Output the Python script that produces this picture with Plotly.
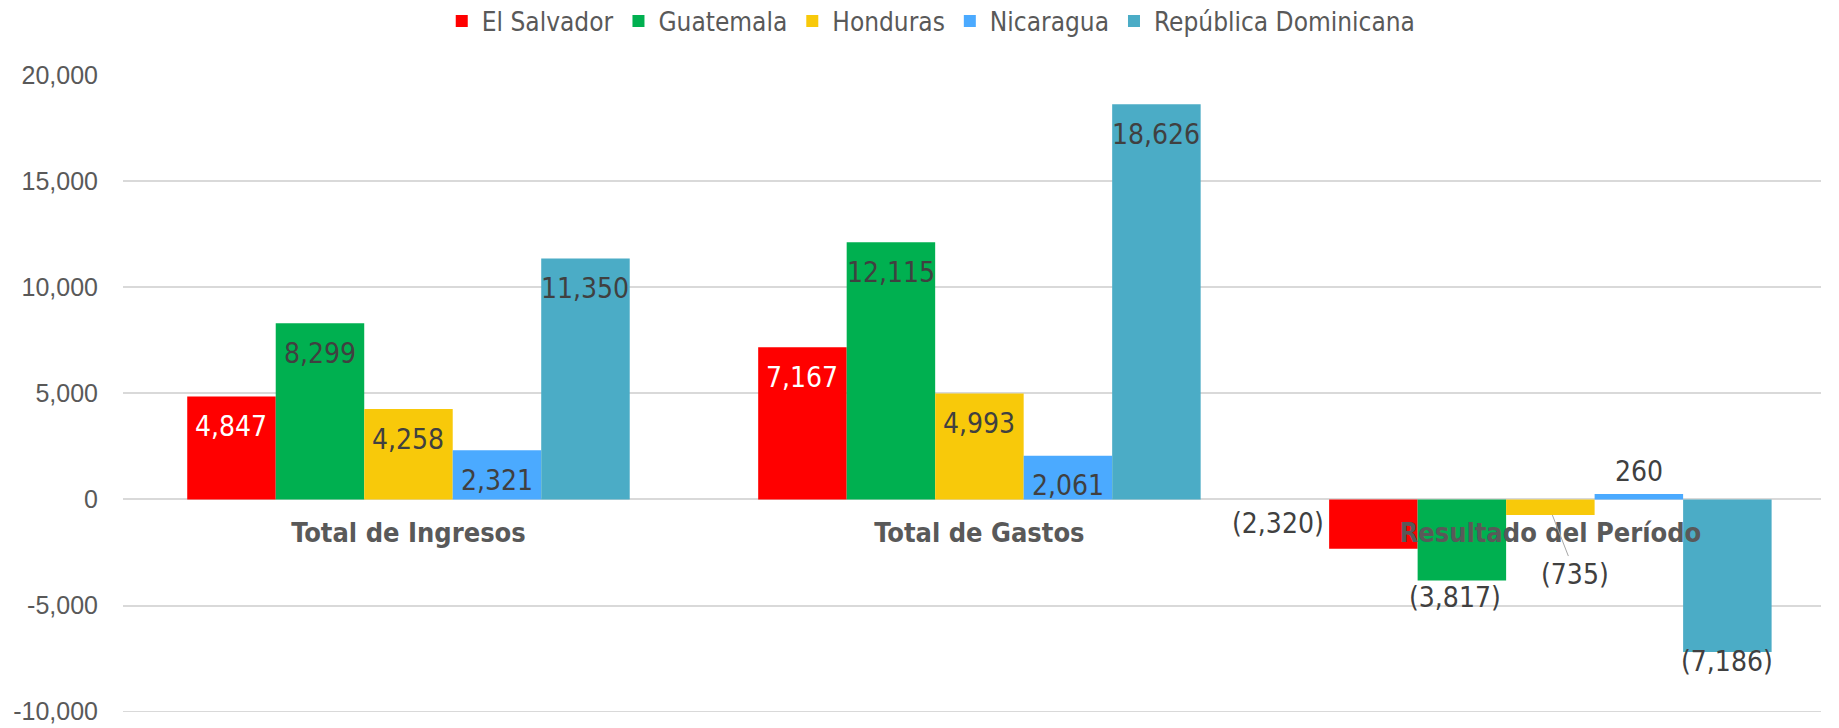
import plotly.graph_objects as go

categories = ["Total de Ingresos", "Total de Gastos", "Resultado del Período"]
series_names = ["El Salvador", "Guatemala", "Honduras", "Nicaragua", "República Dominicana"]
el_salvador = [4847, 7167, -2320]
guatemala = [8299, 12115, -3817]
honduras = [4258, 4993, -735]
nicaragua = [2321, 2061, 260]
rep_dominicana = [11350, 18626, -7186]
y_ticks = [-10000, -5000, 0, 5000, 10000, 15000, 20000]
y_tick_labels = ["-10,000", "-5,000", "0", "5,000", "10,000", "15,000", "20,000"]

values = [el_salvador, guatemala, honduras, nicaragua, rep_dominicana]
colors = ["#FF0000", "#00B050", "#F8C90A", "#4BAAFF", "#4BACC6"]
label_colors = ["#FFFFFF", "#404040", "#404040", "#404040", "#404040"]

LBL_FONT = "DejaVu Sans Condensed, Liberation Sans Narrow, sans-serif"
AX_FONT = "Liberation Sans, Arial, sans-serif"

W, H = 1839, 728
ML, MR, MT, MB = 123, 18, 75, 16
BARGAP = 0.225
X_RANGE = [-0.5, 2.474]
Y_RANGE = [-10015, 20000]
GRID_COLOR = "#D9D9D9"


def fmt(v):
    s = f"{abs(v):,}"
    return f"({s})" if v < 0 else s


fig = go.Figure()
for name, vals, col in zip(series_names, values, colors):
    fig.add_trace(go.Bar(
        name=name, x=categories, y=vals, marker_color=col, marker_line_width=0,
        hoverinfo="x+y",
    ))

cat_px = (W - ML - MR) / (X_RANGE[1] - X_RANGE[0])
bar_px = cat_px * (1 - BARGAP) / len(values)

annotations = []
for i, (vals, lc) in enumerate(zip(values, label_colors)):
    off = (i - (len(values) - 1) / 2) * bar_px
    for j, v in enumerate(vals):
        base = dict(x=categories[j], xref="x", yref="y", text=fmt(v), showarrow=False,
                    font=dict(family=LBL_FONT, size=28, color="#404040"))
        if j < 2:
            base.update(y=v, xanchor="center", yanchor="middle", xshift=off, yshift=-30,
                        font=dict(family=LBL_FONT, size=28, color=lc))
        elif i == 0:
            base.update(y=v / 2, xanchor="right", yanchor="middle",
                        xshift=off - bar_px / 2 - 3, yshift=1)
        elif i == 2:
            base.update(y=v, showarrow=True, arrowhead=0, arrowwidth=1, arrowcolor="#A6A6A6",
                        ax=23, ay=59, xshift=off + 2)
        elif v >= 0:
            base.update(y=v, xanchor="center", yanchor="middle", xshift=off, yshift=22)
        elif i == 1:
            base.update(y=v, xanchor="center", yanchor="middle", xshift=off - 7, yshift=-17)
        else:
            base.update(y=v, xanchor="center", yanchor="middle", xshift=off, yshift=-10)
        annotations.append(base)

zero_frac = (0 - Y_RANGE[0]) / (Y_RANGE[1] - Y_RANGE[0])

# bottom gridline (plotly omits the one on the lower edge)
shapes = [dict(type="line", xref="paper", yref="y", x0=0, x1=1,
               y0=y_ticks[0], y1=y_ticks[0], layer="below",
               line=dict(color=GRID_COLOR, width=1.5))]

fig.update_layout(
    width=W, height=H,
    margin=dict(l=ML, r=MR, t=MT, b=MB, autoexpand=False),
    paper_bgcolor="white", plot_bgcolor="white",
    barmode="group", bargap=BARGAP, bargroupgap=0,
    showlegend=True,
    legend=dict(orientation="h", x=0.476, xanchor="center",
                yref="container", y=1 - 21 / H, yanchor="middle",
                font=dict(family=LBL_FONT, size=26, color="#595959"),
                itemclick=False, traceorder="normal"),
    annotations=annotations,
    shapes=shapes,
    xaxis=dict(anchor="free", position=zero_frac, range=X_RANGE, showgrid=False,
               showline=False, ticks="", automargin=False,
               tickfont=dict(family=LBL_FONT, size=27, color="#595959", weight="bold"),
               ticklabelstandoff=15),
    yaxis=dict(range=Y_RANGE, tickvals=y_ticks, ticktext=y_tick_labels,
               automargin=False, ticklabeloverflow="allow",
               showgrid=True, gridcolor=GRID_COLOR, gridwidth=1.5,
               zeroline=True, zerolinecolor=GRID_COLOR, zerolinewidth=1.5,
               showline=False, ticks="",
               tickfont=dict(family=AX_FONT, size=25, color="#595959"),
               ticklabelstandoff=24),
)

fig.write_html("out.html", config={"displayModeBar": False},
               post_script="document.body.style.margin='0';")
